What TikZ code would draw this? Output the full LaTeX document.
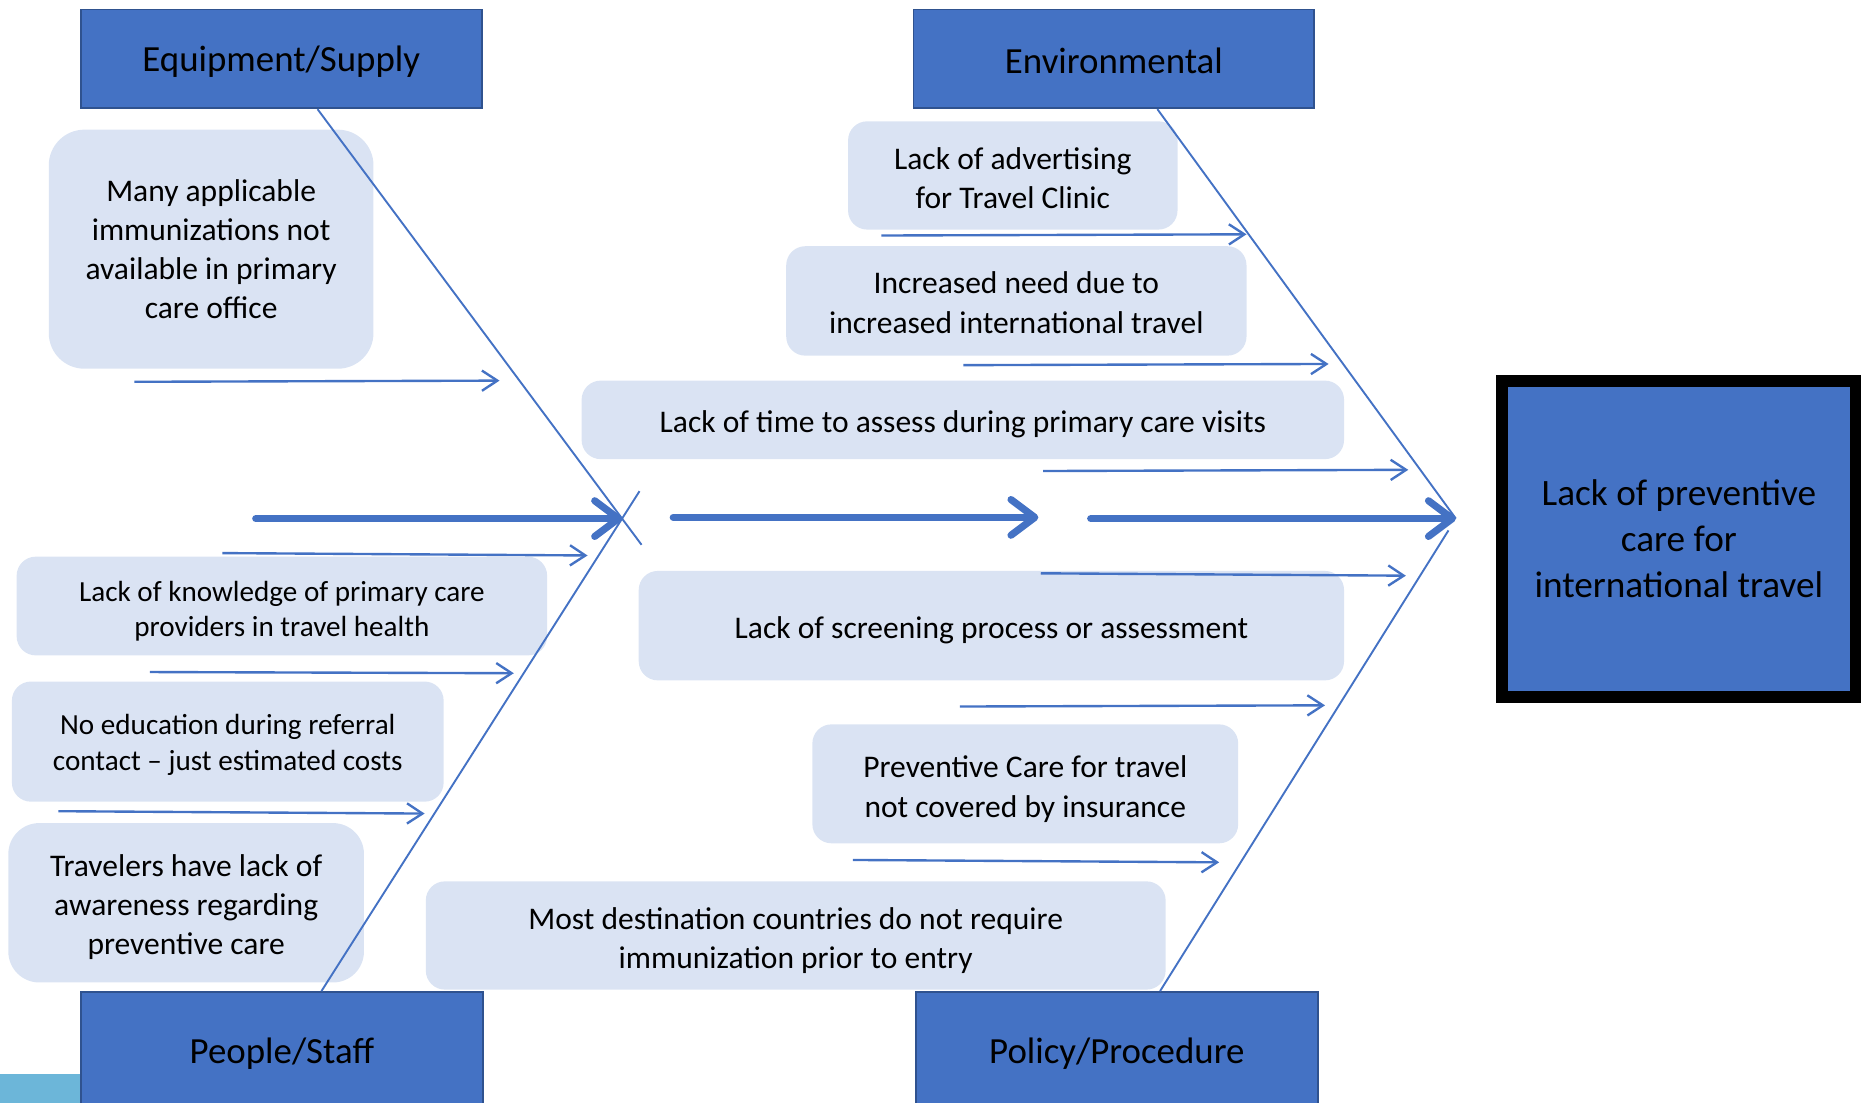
\documentclass[tikz,border=0pt]{standalone}
\usepackage{fontspec}
\setmainfont{Carlito}
\usetikzlibrary{arrows.meta,calc}
\definecolor{hdblue}{HTML}{4472C4}
\definecolor{hdedge}{HTML}{2F528F}
\definecolor{causefill}{HTML}{DAE3F3}
\definecolor{stripblue}{HTML}{6CB6D9}

\tikzset{
  header/.style={draw=hdedge, line width=1.5pt, fill=hdblue, minimum width=337pt,
    minimum height=83pt, inner sep=0pt},
  headtext/.style={inner sep=0pt, font=\fontsize{31}{38}\selectfont},
  cause/.style={fill=causefill, rounded corners=16pt, inner sep=0pt},
  ctext/.style={inner sep=0pt, align=center, font=\fontsize{26.5}{33}\selectfont},
  ctextsm/.style={ctext, font=\fontsize{24.5}{30}\selectfont},
  spine/.style={draw=hdblue, line width=1.6pt},
  feeder/.style={draw=hdblue, line width=2pt, -{Straight Barb[length=13pt,width=17pt]}},
  mainarrow/.style={draw=hdblue, line width=6pt, line cap=round,
    -{Straight Barb[length=20pt,width=30pt,round]}},
}

\begin{document}
\begin{tikzpicture}[x=1pt, y=-1pt]
\useasboundingbox (0,0) rectangle (1568,927);
\clip (0,0) rectangle (1568,927);

% corner strip
\fill[stripblue] (0,903) rectangle (68,927);

% cause boxes and their texts
\node[cause, rounded corners=30pt, minimum width=273pt, minimum height=201pt] (many) at (177.5,209.5) {};
\node[ctext] (manyt) at (many.center)
  {Many applicable\\immunizations not\\available in primary\\care office};
\node[cause, minimum width=277pt, minimum height=91pt] (advert) at (851.5,147.5) {};
\node[ctext] (advertt) at ([yshift=-2pt]advert.center)
  {Lack of advertising\\for Travel Clinic};
\node[cause, minimum width=387pt, minimum height=92pt] (incr) at (854.5,253) {};
\node[ctext] (incrt) at ([yshift=-1.5pt]incr.center)
  {Increased need due to\\increased international travel};
\node[cause, minimum width=641pt, minimum height=66pt] (time) at (809.5,353) {};
\node[ctext] (timet) at ([yshift=-4pt]time.center)
  {Lack of time to assess during primary care visits};
\node[cause, minimum width=446pt, minimum height=83pt] (know) at (237,509.5) {};
\node[ctextsm] (knowt) at ([yshift=-4.5pt]know.center)
  {Lack of knowledge of primary care\\providers in travel health};
\node[cause, minimum width=593pt, minimum height=92pt] (screen) at (833.5,526) {};
\node[ctext] (screent) at ([yshift=-4pt]screen.center)
  {Lack of screening process or assessment};
\node[cause, minimum width=363pt, minimum height=101pt] (noedu) at (191.5,623.5) {};
\node[ctextsm] (noedut) at ([yshift=-3pt]noedu.center)
  {No education during referral\\contact – just estimated costs};
\node[cause, minimum width=358pt, minimum height=100pt] (prev) at (862,659) {};
\node[ctext] (prevt) at ([yshift=-4.5pt]prev.center)
  {Preventive Care for travel\\not covered by insurance};
\node[cause, rounded corners=26pt, minimum width=299pt, minimum height=134pt] (trav) at (156.5,759) {};
\node[ctext] (travt) at ([yshift=-3.5pt]trav.center)
  {Travelers have lack of\\awareness regarding\\preventive care};
\node[cause, minimum width=622pt, minimum height=91pt] (most) at (669,786.5) {};
\node[ctext] (mostt) at ([yshift=-4pt]most.center)
  {Most destination countries do not require\\immunization prior to entry};

% category headers
\node[header] (eq) at (236.5,49.5) {};
\node[headtext] (eqt) at ([yshift=-2.5pt]eq.center) {Equipment/Supply};
\node[header] (env) at (936.5,49.5) {};
\node[headtext] (envt) at ([yshift=-1.5pt]env.center) {Environmental};
\node[header, minimum width=338pt, minimum height=100pt] (ppl) at (237,884) {};
\node[headtext] (pplt) at ([yshift=-1.5pt]ppl.center) {People/Staff};
\node[header, minimum width=338pt, minimum height=100pt] (pol) at (939,884) {};
\node[headtext] (polt) at ([yshift=-1.5pt]pol.center) {Policy/Procedure};

% effect
\node[draw=black, line width=10pt, fill=hdblue, minimum width=297pt, minimum height=266pt,
  align=center, font=\fontsize{31.3}{39}\selectfont] (eff) at (1411.5,453)
  {Lack of preventive\\care for\\international travel};

% junctions and spines
\coordinate (jl) at (523,436);
\coordinate (jr) at (1224,436);
\coordinate (eqfoot) at ($(eq.south west)!0.59!(eq.south east)$);
\coordinate (envfoot) at ($(env.south west)!0.608!(env.south east)$);
\coordinate (pplhead) at ($(ppl.north west)!0.598!(ppl.north east)$);
\coordinate (polhead) at ($(pol.north west)!0.607!(pol.north east)$);
\draw[spine] (eqfoot) -- ($(eqfoot)!1.064!(jl)$);
\draw[spine] (pplhead) -- ($(pplhead)!1.058!(jl)$);
\draw[spine] (envfoot) -- (jr);
\draw[spine] (polhead) -- ($(polhead)!0.975!(jr)$);

% main backbone
\coordinate (m1s) at (215,436);
\coordinate (m2s) at (566,435);
\coordinate (m2e) at (873,435);
\coordinate (m3s) at (917,436);
\draw[mainarrow] (m1s) -- (jl);
\draw[mainarrow] (m2s) -- (m2e);
\draw[mainarrow] (m3s) -- (jr);

% feeder arrows
\coordinate (a1s) at (113,321);  \coordinate (a1e) at (420,320);
\coordinate (a2s) at (187,465);  \coordinate (a2e) at (494,467);
\coordinate (a3s) at (126,565);  \coordinate (a3e) at (432,566);
\coordinate (a4s) at (49,682);   \coordinate (a4e) at (357,684);
\coordinate (b1s) at (741,198);  \coordinate (b1e) at (1048,197);
\coordinate (b2s) at (810,307);  \coordinate (b2e) at (1117,306);
\coordinate (b3s) at (877,396);  \coordinate (b3e) at (1184,395);
\coordinate (b4s) at (875,482);  \coordinate (b4e) at (1182,484);
\coordinate (b5s) at (807,594);  \coordinate (b5e) at (1114,593);
\coordinate (b6s) at (717,723);  \coordinate (b6e) at (1025,725);
\foreach \f in {a1,a2,a3,a4,b1,b2,b3,b4,b5,b6}
  \draw[feeder] (\f s) -- (\f e);
\end{tikzpicture}
\end{document}
